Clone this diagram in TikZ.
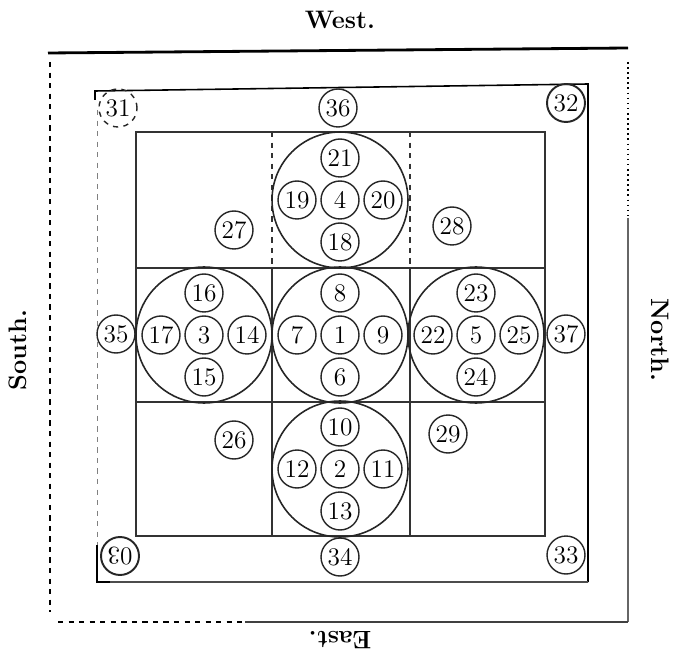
\documentclass[tikz,border=0pt]{standalone}
\usepackage{tikz}
\usetikzlibrary{calc}
\tikzset{
  ring/.style   = {draw=black!85, circle, line width=0.9pt, minimum size=2.72cm,
                   inner sep=0pt},
  num/.style    = {draw=black!85, circle, line width=0.8pt, minimum size=0.76cm,
                   inner sep=0pt, font=\Large},
  grid/.style   = {draw=black!80, line width=0.9pt},
  frame/.style  = {draw=black, line width=0.9pt},
  side/.style   = {font=\Large\bfseries},
}

\begin{document}
\begin{tikzpicture}[x=0.02cm, y=-0.02cm]
  \useasboundingbox (0,0) rectangle (676,658);

  % outer frame
  \draw[frame, line width=1.6pt] (48,53) -- (628,48);
  \draw[frame, dashed, line width=1pt] (50,62) -- (50,612);
  \draw[frame, dotted, line width=1.2pt] (628,62) -- (628,218);
  \draw[frame, draw=black!60] (628,218) -- (628,622);
  \draw[frame, dashed] (58,622) -- (245,622);
  \draw[frame, draw=black!75] (245,622) -- (628,622);

  % second frame
  \draw[frame] (95,100) -- (95,91) -- (588,84) -- (588,582);
  \draw[frame, draw=black!70] (97,582) -- (588,582);
  \draw[frame, dashed, draw=black!50, line width=0.5pt] (97,110) -- (97,545);
  \draw[frame] (97,545) -- (97,582) -- (110,582);

  % the nine squares
  \draw[grid] (136,132) rectangle (545,536);
  \draw[grid] (136,268) -- (545,268);
  \draw[grid] (136,402) -- (545,402);
  \draw[grid, dashed] (272,132) -- (272,268);
  \draw[grid, dashed] (410,132) -- (410,268);
  \draw[grid] (272,268) -- (272,536);
  \draw[grid] (410,268) -- (410,536);

  % five rings: centre / top / right / bottom / left
  \foreach \cx/\cy/\c/\t/\r/\b/\l in {
      340/200/4/21/20/18/19,
      204/335/3/16/14/15/17,
      340/335/1/8/9/6/7,
      476/335/5/23/25/24/22,
      340/469/2/10/11/13/12} {
    \node[ring] (ring\c) at (\cx,\cy) {};
    \node[num] (n\c) at (ring\c) {\c};
    \node[num] (n\t) at ($(ring\c)+(0,-42)$) {\t};
    \node[num] (n\r) at ($(ring\c)+(43,0)$) {\r};
    \node[num] (n\b) at ($(ring\c)+(0,42)$) {\b};
    \node[num] (n\l) at ($(ring\c)+(-43,0)$) {\l};
  }

  % corner squares
  \node[num] (n27) at (234,230) {27};
  \node[num] (n28) at (452,226) {28};
  \node[num] (n26) at (234,440) {26};
  \node[num] (n29) at (448,434) {29};

  % outer ring of numbers
  \node[num, dashed] (n31) at (118,108) {31};
  \node[num] (n36) at (338,108) {36};
  \node[num, line width=1.1pt] (n32) at (566,103) {32};
  \node[num] (n35) at (116,334) {35};
  \node[num] (n37) at (566,334) {37};
  \node[num, line width=1.1pt] (n30) at (120,556) {\rotatebox[origin=c]{180}{3}0};
  \node[num] (n34) at (340,557) {34};
  \node[num] (n33) at (566,555) {33};

  % quarters
  \node[side] (west) at (340,20) {West.};
  \node[side, rotate=90] (south) at (18,350) {South.};
  \node[side, rotate=-90] (north) at (660,340) {North.};
  \node[side, rotate=180] (east) at (340,640) {East.};
\end{tikzpicture}
\end{document}
